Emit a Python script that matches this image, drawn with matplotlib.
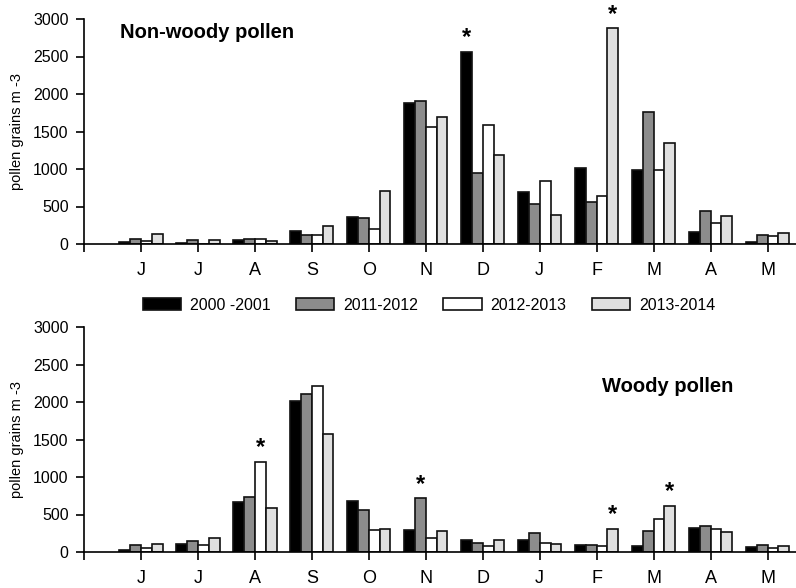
import matplotlib
matplotlib.use("Agg")
import matplotlib.pyplot as plt
import numpy as np

plt.rcParams['font.family'] = ['Liberation Sans', 'DejaVu Sans']

months = ["J", "J", "A", "S", "O", "N", "D", "J", "F", "M", "A", "M"]
seasons = ["2000 -2001", "2011-2012", "2012-2013", "2013-2014"]
colors = ["#000000", "#8c8c8c", "#ffffff", "#e0e0e0"]

# Non-woody pollen
nw_2000 = [31, 18, 58, 173, 356, 1880, 2564, 689, 1013, 982, 164, 31]
nw_2011 = [67, 49, 62, 124, 342, 1911, 947, 533, 564, 1756, 440, 124]
nw_2012 = [36, 5, 67, 120, 204, 1564, 1587, 844, 644, 991, 280, 102]
nw_2013 = [138, 49, 36, 236, 707, 1698, 1187, 387, 2876, 1342, 369, 151]

# Woody pollen
w_2000 = [31, 111, 671, 2018, 684, 293, 160, 156, 93, 84, 320, 62]
w_2011 = [89, 142, 733, 2111, 564, 716, 124, 253, 93, 276, 351, 89]
w_2012 = [49, 98, 1204, 2218, 298, 187, 84, 124, 80, 444, 307, 53]
w_2013 = [107, 182, 587, 1578, 307, 280, 164, 107, 311, 618, 271, 80]

# significance marks: (month index, series index)
nw_stars = [(6, 0), (8, 3)]
w_stars = [(2, 2), (5, 1), (8, 3), (9, 3)]

fig = plt.figure(figsize=(7.96, 5.88), dpi=100)
ax1 = fig.add_axes([84/796, 1-244/588, 1-84/796, 225/588])
ax2 = fig.add_axes([84/796, 1-552/588, 1-84/796, 225/588])

bw = 0.19
x = np.arange(len(months))
offsets = (np.arange(4) - 1.5) * bw


def draw(ax, series, stars, title, tx, ty):
    bars = []
    for i, (vals, c) in enumerate(zip(series, colors)):
        b = ax.bar(x + offsets[i], vals, width=bw, color=c, edgecolor="#111111",
                   linewidth=1.2, label=seasons[i], zorder=2)
        bars.append(b)
    for m, s in stars:
        ax.annotate("*", (x[m] + offsets[s], series[s][m]), xytext=(0, 2),
                    textcoords="offset points", ha="center", va="bottom",
                    fontsize=17, fontweight="bold", annotation_clip=False)
    ax.set_xlim(-1, 11.5)
    ax.set_ylim(0, 3000)
    ax.set_yticks(np.arange(0, 3001, 500))
    ax.set_yticklabels([str(v) for v in range(0, 3001, 500)], fontsize=11.5)
    ax.set_xticks(np.arange(-1, 12))
    ax.set_xticklabels([""] + months, fontsize=13)
    ax.tick_params(axis="x", direction="out", length=6, width=1.2, pad=7)
    ax.tick_params(axis="y", direction="out", length=6, width=1.2, pad=5)
    for sp in ["top", "right"]:
        ax.spines[sp].set_visible(False)
    ax.spines["left"].set_linewidth(1.2)
    ax.spines["bottom"].set_linewidth(1.2)
    ax.set_ylabel("pollen grains m -3", fontsize=10.5)
    ax.yaxis.set_label_coords(-0.084, 0.5)
    ax.text(tx, ty, title, transform=ax.transAxes, fontsize=14.5,
            fontweight="bold", ha="left", va="center")
    return bars


bars = draw(ax1, [nw_2000, nw_2011, nw_2012, nw_2013], nw_stars,
            "Non-woody pollen", (120-84)/712, (244-33)/225)
draw(ax2, [w_2000, w_2011, w_2012, w_2013], w_stars,
     "Woody pollen", (602-84)/712, (552-386)/225)

fig.legend(handles=bars, labels=seasons, loc="center", ncol=4,
           bbox_to_anchor=(429/796, 1-305/588), frameon=False,
           fontsize=11.5, handlelength=2.4, handleheight=0.85,
           handletextpad=0.55, columnspacing=1.6)

fig.savefig("out.png", dpi=100, facecolor="white")
